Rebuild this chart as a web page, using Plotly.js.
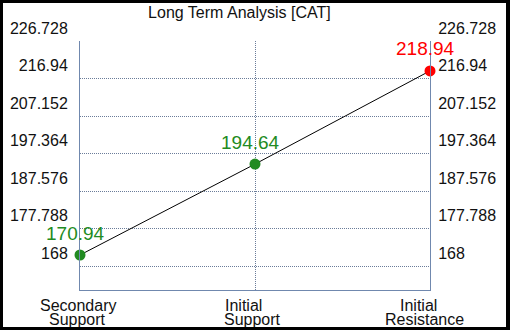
<!DOCTYPE html>
<html>
<head>
<meta charset="utf-8">
<script src="https://cdn.plot.ly/plotly-3.0.1.min.js"></script>
<style>
  html, body { margin: 0; padding: 0; background: #000; }
  #wrap { position: relative; width: 510px; height: 330px; background: #000; overflow: hidden; }
  #chart { position: absolute; left: 3px; top: 3px; width: 503px; height: 324px; background: #fff; }
</style>
</head>
<body>
<div id="wrap"><div id="chart"></div></div>
<script>
// ---- data ----
const categories = ['Secondary Support', 'Initial Support', 'Initial Resistance'];
const values = [170.94, 194.64, 218.94];
const pointColors = ['#228B22', '#228B22', '#FF0000'];
const yTickVals = [168, 177.788, 187.576, 197.364, 207.152, 216.94, 226.728];
const yTickText = ['168', '177.788', '187.576', '197.364', '207.152', '216.94', '226.728'];
const titleText = 'Long Term Analysis [CAT]';

// ---- styles ----
const FONT = '"Liberation Sans", Arial, sans-serif';
const axisColor = '#7088ae';
const gridColor = '#6a7c99';
const yRange = [161.82, 226.728];
const lineShift = [[-1.7, -2.5], [-12, -2.5], [-12, -5.3]];

const xIdx = categories.map((c, i) => i);

const traces = [
  {
    x: xIdx, y: values, type: 'scatter', mode: 'lines+markers',
    line: { color: '#000', width: 1 },
    marker: { color: pointColors, size: 11 },
    cliponaxis: false, hoverinfo: 'none', xaxis: 'x', yaxis: 'y'
  },
  {
    x: xIdx, y: values, type: 'scatter', mode: 'markers',
    marker: { color: 'rgba(0,0,0,0)', size: 1 },
    cliponaxis: false, hoverinfo: 'none', xaxis: 'x', yaxis: 'y2', showlegend: false
  }
];

const annotations = [];
values.forEach((v, i) => {
  annotations.push({
    x: xIdx[i], y: v, xref: 'x', yref: 'y', text: v.toFixed(2),
    showarrow: false, xanchor: 'center', yanchor: 'middle',
    xshift: -5, yshift: 22,
    font: { family: FONT, size: 19, color: pointColors[i] }
  });
});
categories.forEach((c, i) => {
  const parts = c.split(' ');
  parts.forEach((p, j) => {
    annotations.push({
      x: xIdx[i], y: 0, xref: 'x', yref: 'paper', text: p,
      showarrow: false, xanchor: 'center', yanchor: 'middle',
      xshift: lineShift[i][j], yshift: -15.5 - 14 * j,
      font: { family: FONT, size: 16, color: '#111' }
    });
  });
});

const yCommon = {
  range: yRange, tickmode: 'array', tickvals: yTickVals, ticktext: yTickText,
  showline: true, linecolor: axisColor, linewidth: 1,
  zeroline: false, ticks: '', ticklabelshift: -13,
  tickfont: { family: FONT, size: 16, color: '#111' },
  fixedrange: true
};

const layout = {
  width: 503, height: 324,
  margin: { l: 77, r: 76, t: 38, b: 37, pad: 0 },
  paper_bgcolor: '#fff', plot_bgcolor: '#fff',
  showlegend: false,
  title: {
    text: titleText, x: 0.470, xanchor: 'center', xref: 'container',
    y: 0.972, yanchor: 'middle', yref: 'container',
    font: { family: FONT, size: 16, color: '#111' }
  },
  xaxis: {
    range: [0, 2], tickmode: 'array', tickvals: xIdx, showticklabels: false,
    showgrid: true, gridcolor: gridColor, griddash: '1px,1px', gridwidth: 1,
    showline: true, linecolor: axisColor, linewidth: 1, zeroline: false, ticks: '',
    fixedrange: true
  },
  yaxis: Object.assign({}, yCommon, {
    side: 'left', showgrid: true, gridcolor: gridColor, griddash: '1px,1px', gridwidth: 1,
    ticklabelstandoff: 8
  }),
  yaxis2: Object.assign({}, yCommon, {
    side: 'right', overlaying: 'y', showgrid: false, anchor: 'x',
    ticklabelstandoff: 4
  }),
  annotations: annotations
};

Plotly.newPlot('chart', traces, layout, { displayModeBar: false, staticPlot: true });
</script>
</body>
</html>
